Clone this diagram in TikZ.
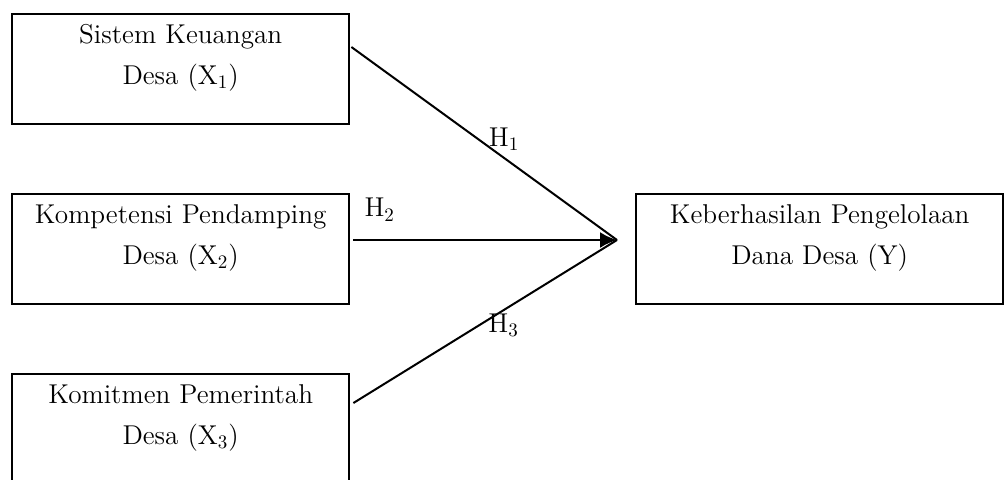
\documentclass[tikz,border=0pt]{standalone}
\usepackage{tikz}
\usetikzlibrary{arrows.meta,calc,positioning}
\tikzset{
    >={Latex[length=8.5pt,width=8pt]},
    varbox/.style={draw=black, line width=1.2pt, inner sep=0pt, align=center,
        text width=168.5pt, text height=14.5pt, text depth=40.5pt,
        font=\fontsize{13.6}{20.5}\selectfont},
    hlab/.style={inner sep=0pt, font=\fontsize{13.6}{15}\selectfont},
    link/.style={line width=1pt},
}

\begin{document}
\begin{tikzpicture}[x=0.5pt,y=-0.5pt]
    \useasboundingbox (0,0) rectangle (1008,479);

    \node[varbox, anchor=north west] (x1) at (11,13) {Sistem Keuangan\\Desa (X\textsubscript{1})};
    \node[varbox, anchor=north west] (x2) at (11,193) {Kompetensi Pendamping\\Desa (X\textsubscript{2})};
    \node[varbox, anchor=north west] (x3) at (11,373) {Komitmen Pemerintah\\Desa (X\textsubscript{3})};
    \node[varbox, anchor=north west, text width=183.5pt] (y) at (635,193) {Keberhasilan Pengelolaan\\Dana Desa (Y)};

    % ends of the paths
    \coordinate (tip) at ($(y.north west)+(-18,47)$);
    \coordinate (s1) at ($(x1.north east)+(1,34)$);
    \coordinate (s2) at ($(x2.north east)+(3,47)$);
    \coordinate (s3) at ($(x3.north east)+(3,30)$);

    \draw[link] (s1) -- (tip) node[hlab, pos=.575, above=3pt] {H\textsubscript{1}};
    \draw[link,->] (s2) -- (tip) node[hlab, pos=.1, above=9pt] {H\textsubscript{2}};
    \draw[link] (s3) -- (tip) node[hlab, pos=.57, below=1.5pt] {H\textsubscript{3}};
\end{tikzpicture}
\end{document}
